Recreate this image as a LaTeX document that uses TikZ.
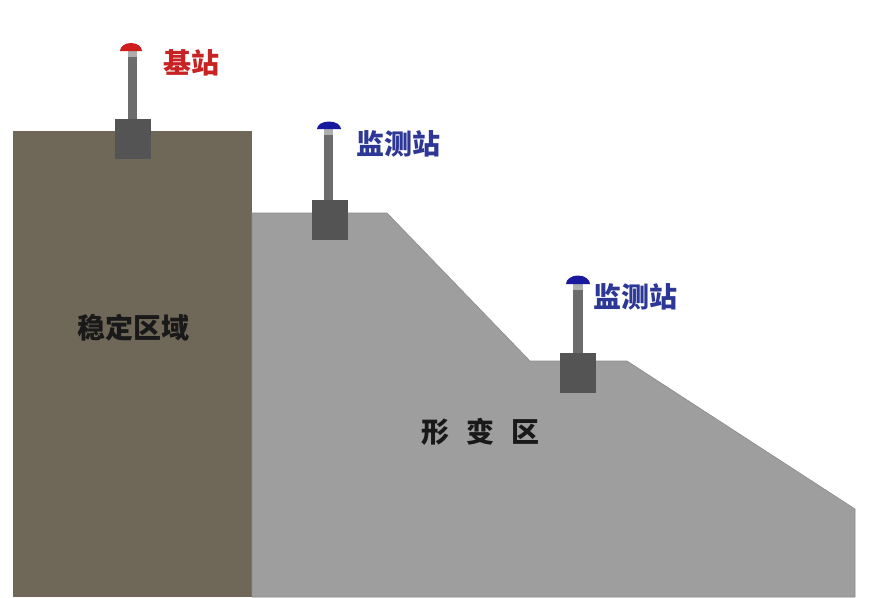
\documentclass[tikz,border=0pt]{standalone}
\usepackage{fontspec}
\newfontfamily\cjk{Noto Sans CJK SC}
\definecolor{rock}{RGB}{111,103,88}
\definecolor{slope}{RGB}{158,158,158}
\definecolor{slopeedge}{RGB}{140,140,140}
\definecolor{blockc}{RGB}{84,84,84}
\definecolor{polec}{RGB}{108,108,108}
\definecolor{domered}{RGB}{205,30,30}
\definecolor{domeblue}{RGB}{25,25,160}
\definecolor{labred}{RGB}{200,35,35}
\definecolor{labblue}{RGB}{45,55,150}
\tikzset{
  base/.style={fill=blockc, draw=none, minimum width=36pt, minimum height=40pt, inner sep=0pt},
  mast/.style={fill=polec, draw=none},
  neck/.style={fill=polec!55!white, draw=none},
  stationlabel/.style={font=\cjk\bfseries\fontsize{28}{32}\selectfont, inner sep=0pt, anchor=west},
  arealabel/.style={font=\cjk\bfseries\fontsize{28}{32}\selectfont, inner sep=0pt, text=black!90}
}
\begin{document}
\begin{tikzpicture}[x=1pt,y=-1pt]
  \useasboundingbox (0,0) rectangle (872,597);
  \fill[white] (0,0) rectangle (872,597);

  % stable ground block
  \fill[rock] (13,131) rectangle (252,597);
  % deforming slope
  \fill[slope, draw=slopeedge, line width=0.6pt]
    (252,597) -- (252,213) -- (387,213) -- (530,361) -- (627,361)
    -- (855,509) -- (855,597) -- cycle;

  % reference station
  \node[base] (b0) at (132.5,139) {};
  \fill[neck] (128,51) rectangle (137,57);
  \fill[mast] (128,57) rectangle (137,119);
  \fill[domered] (120,51) arc[start angle=180, end angle=360, x radius=11, y radius=8] -- cycle;
  \node[stationlabel, text=labred] (l0) at (163,63) {基站};

  % monitoring station on the upper bench
  \node[base] (b1) at (329.5,220) {};
  \fill[neck] (324,129) rectangle (333,135);
  \fill[mast] (324,135) rectangle (333,200);
  \fill[domeblue] (317,129) arc[start angle=180, end angle=360, x radius=12, y radius=7.5] -- cycle;
  \node[stationlabel, text=labblue] (l1) at (356,144) {监测站};

  % monitoring station on the lower bench
  \node[base] (b2) at (578,373) {};
  \fill[neck] (573,284) rectangle (583,290);
  \fill[mast] (573,290) rectangle (583,353);
  \fill[domeblue] (566,284) arc[start angle=180, end angle=360, x radius=12, y radius=8.5] -- cycle;
  \node[stationlabel, text=labblue] (l2) at (593,297) {监测站};

  % area names
  \node[arealabel] (stable) at (133,328) {稳定区域};
  \node[arealabel] (zone1) at (435,432) {形};
  \node[arealabel] (zone2) at (480,432) {变};
  \node[arealabel] (zone3) at (525,432) {区};
\end{tikzpicture}
\end{document}
